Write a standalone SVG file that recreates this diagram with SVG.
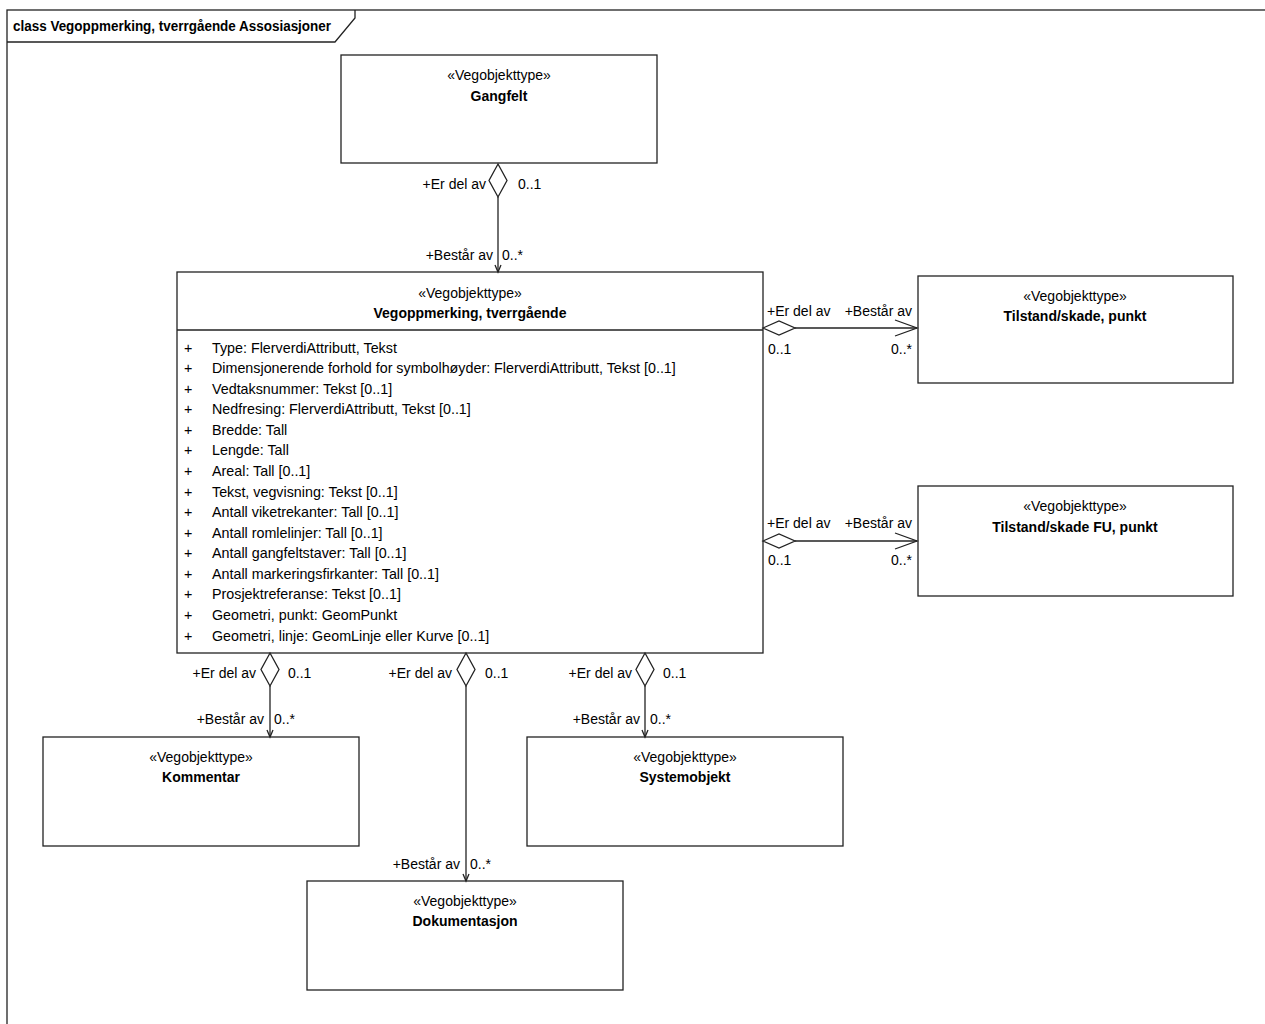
<svg xmlns="http://www.w3.org/2000/svg" width="1265" height="1024" viewBox="0 0 1265 1024">
<style>
text{font-family:"Liberation Sans",Arial,sans-serif;font-size:14px;fill:#000}
.st{text-anchor:middle}
.nm{text-anchor:middle;font-weight:bold}
.at{font-size:14.3px}
.box{fill:#fff;stroke:#222;stroke-width:1.3}
.ln{fill:none;stroke:#222;stroke-width:1.3}
.dia{fill:#fff;stroke:#222;stroke-width:1.3}
.r{text-anchor:end}
</style>
<rect width="1265" height="1024" fill="#fff"/>
<g id="frame">
<rect x="7" y="10" width="1270" height="1030" class="ln"/>
<path d="M7 42 H335 L355 18 V10" class="ln"/>
<text x="13" y="31" style="font-weight:bold" textLength="318" lengthAdjust="spacingAndGlyphs">class Vegoppmerking, tverrgående Assosiasjoner</text>
</g>
<g id="gangfelt">
<rect x="341" y="55" width="316" height="108" class="box"/>
<text x="499" y="80" class="st">«Vegobjekttype»</text>
<text x="499" y="101" class="nm">Gangfelt</text>
</g>
<g id="vegoppmerking">
<rect x="177" y="272" width="586" height="381" class="box"/>
<line x1="177" y1="330" x2="763" y2="330" class="ln"/>
<text x="470" y="298" class="st">«Vegobjekttype»</text>
<text x="470" y="318" class="nm">Vegoppmerking, tverrgående</text>
<g id="attrs" class="at">
<text x="184" y="353" class="at">+</text><text x="212" y="353" class="at">Type: FlerverdiAttributt, Tekst</text>
<text x="184" y="373" class="at">+</text><text x="212" y="373" class="at">Dimensjonerende forhold for symbolhøyder: FlerverdiAttributt, Tekst [0..1]</text>
<text x="184" y="394" class="at">+</text><text x="212" y="394" class="at">Vedtaksnummer: Tekst [0..1]</text>
<text x="184" y="414" class="at">+</text><text x="212" y="414" class="at">Nedfresing: FlerverdiAttributt, Tekst [0..1]</text>
<text x="184" y="435" class="at">+</text><text x="212" y="435" class="at">Bredde: Tall</text>
<text x="184" y="455" class="at">+</text><text x="212" y="455" class="at">Lengde: Tall</text>
<text x="184" y="476" class="at">+</text><text x="212" y="476" class="at">Areal: Tall [0..1]</text>
<text x="184" y="497" class="at">+</text><text x="212" y="497" class="at">Tekst, vegvisning: Tekst [0..1]</text>
<text x="184" y="517" class="at">+</text><text x="212" y="517" class="at">Antall viketrekanter: Tall [0..1]</text>
<text x="184" y="538" class="at">+</text><text x="212" y="538" class="at">Antall romlelinjer: Tall [0..1]</text>
<text x="184" y="558" class="at">+</text><text x="212" y="558" class="at">Antall gangfeltstaver: Tall [0..1]</text>
<text x="184" y="579" class="at">+</text><text x="212" y="579" class="at">Antall markeringsfirkanter: Tall [0..1]</text>
<text x="184" y="599" class="at">+</text><text x="212" y="599" class="at">Prosjektreferanse: Tekst [0..1]</text>
<text x="184" y="620" class="at">+</text><text x="212" y="620" class="at">Geometri, punkt: GeomPunkt</text>
<text x="184" y="641" class="at">+</text><text x="212" y="641" class="at">Geometri, linje: GeomLinje eller Kurve [0..1]</text>
</g>
</g>
<g id="tilstand">
<rect x="918" y="276" width="315" height="107" class="box"/>
<text x="1075" y="301" class="st">«Vegobjekttype»</text>
<text x="1075" y="321" class="nm">Tilstand/skade, punkt</text>
</g>
<g id="tilstandfu">
<rect x="918" y="486" width="315" height="110" class="box"/>
<text x="1075" y="511" class="st">«Vegobjekttype»</text>
<text x="1075" y="532" class="nm">Tilstand/skade FU, punkt</text>
</g>
<g id="kommentar">
<rect x="43" y="737" width="316" height="109" class="box"/>
<text x="201" y="762" class="st">«Vegobjekttype»</text>
<text x="201" y="782" class="nm">Kommentar</text>
</g>
<g id="systemobjekt">
<rect x="527" y="737" width="316" height="109" class="box"/>
<text x="685" y="762" class="st">«Vegobjekttype»</text>
<text x="685" y="782" class="nm">Systemobjekt</text>
</g>
<g id="dokumentasjon">
<rect x="307" y="881" width="316" height="109" class="box"/>
<text x="465" y="906" class="st">«Vegobjekttype»</text>
<text x="465" y="926" class="nm">Dokumentasjon</text>
</g>
<g id="connectors">
<!-- Gangfelt -->
<line x1="498" y1="197" x2="498" y2="272" class="ln"/>
<path d="M498 164 L507 180.5 L498 197 L489 180.5 Z" class="dia"/>
<path d="M495 265 L498 272 L501 265" class="ln"/>
<text x="486" y="189" class="r">+Er del av</text>
<text x="518" y="189">0..1</text>
<text x="493" y="260" class="r">+Består av</text>
<text x="502" y="260">0..*</text>
<!-- Tilstand -->
<line x1="795" y1="328" x2="917" y2="328" class="ln"/>
<path d="M763 328 L779 321 L795 328 L779 335 Z" class="dia"/>
<path d="M895 320 L917 328 L895 336" class="ln"/>
<text x="767" y="316">+Er del av</text>
<text x="912" y="316" class="r">+Består av</text>
<text x="768" y="354">0..1</text>
<text x="912" y="354" class="r">0..*</text>
<!-- Tilstand FU -->
<line x1="795" y1="541" x2="917" y2="541" class="ln"/>
<path d="M763 541 L779 534 L795 541 L779 548 Z" class="dia"/>
<path d="M895 533 L917 541 L895 549" class="ln"/>
<text x="767" y="528">+Er del av</text>
<text x="912" y="528" class="r">+Består av</text>
<text x="768" y="565">0..1</text>
<text x="912" y="565" class="r">0..*</text>
<!-- Kommentar -->
<line x1="270" y1="686" x2="270" y2="737" class="ln"/>
<path d="M270 653 L279 669.5 L270 686 L261 669.5 Z" class="dia"/>
<path d="M267 730 L270 737 L273 730" class="ln"/>
<text x="256" y="678" class="r">+Er del av</text>
<text x="288" y="678">0..1</text>
<text x="264" y="724" class="r">+Består av</text>
<text x="274" y="724">0..*</text>
<!-- Dokumentasjon -->
<line x1="466" y1="686" x2="466" y2="881" class="ln"/>
<path d="M466 653 L475 669.5 L466 686 L457 669.5 Z" class="dia"/>
<path d="M463 874 L466 881 L469 874" class="ln"/>
<text x="452" y="678" class="r">+Er del av</text>
<text x="485" y="678">0..1</text>
<text x="460" y="869" class="r">+Består av</text>
<text x="470" y="869">0..*</text>
<!-- Systemobjekt -->
<line x1="645" y1="686" x2="645" y2="737" class="ln"/>
<path d="M645 653 L654 669.5 L645 686 L636 669.5 Z" class="dia"/>
<path d="M642 730 L645 737 L648 730" class="ln"/>
<text x="632" y="678" class="r">+Er del av</text>
<text x="663" y="678">0..1</text>
<text x="640" y="724" class="r">+Består av</text>
<text x="650" y="724">0..*</text>
</g>
</svg>
